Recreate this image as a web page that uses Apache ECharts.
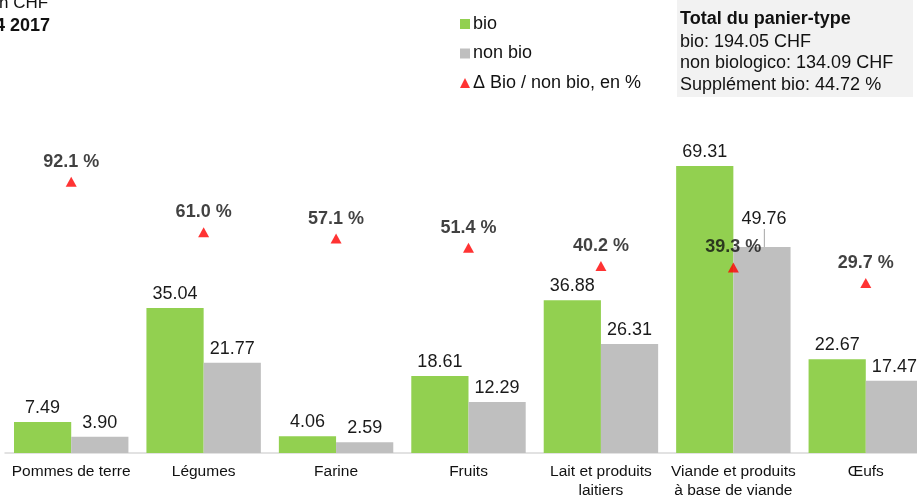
<!DOCTYPE html>
<html>
<head>
<meta charset="utf-8">
<script src="https://cdn.jsdelivr.net/npm/echarts@6/dist/echarts.min.js"></script>
<style>
  html, body { margin: 0; padding: 0; background: #fff; }
  #chart { width: 917px; height: 498px; }
</style>
</head>
<body>
<div id="chart"></div>
<script>
var categories = ["Pommes de terre", "Légumes", "Farine", "Fruits", "Lait et produits\nlaitiers", "Viande et produits\nà base de viande", "Œufs"];
var bioValues = [7.49, 35.04, 4.06, 18.61, 36.88, 69.31, 22.67];
var nonBioValues = [3.90, 21.77, 2.59, 12.29, 26.31, 49.76, 17.47];
var deltaValues = [92.1, 61.0, 57.1, 51.4, 40.2, 39.3, 29.7];

var boxLines = ["bio: 194.05 CHF", "non biologico: 134.09 CHF", "Supplément bio: 44.72 %"];

var font = "'Liberation Sans', Arial, sans-serif";

var chart = echarts.init(document.getElementById("chart"));

// the 49.76 label is pushed up so it does not hit the 39.3 % label
var nonBioData = nonBioValues.map(function (v, i) {
    if (i === 5) {
        return { value: v, label: { offset: [2, -14] } };
    }
    return v;
});

var valueLabel = {
    show: true, position: "top", distance: 5, fontSize: 18, color: "#1a1a1a", fontFamily: font,
    formatter: function (p) { return p.value.toFixed(2); }
};

var option = {
    animation: false,
    textStyle: { fontFamily: font },
    legend: {
        orient: "vertical",
        left: 455,
        top: 10,
        itemWidth: 10,
        itemHeight: 10,
        itemGap: 11.5,
        textStyle: { fontSize: 18, color: "#111", fontFamily: font, padding: [0, 0, 0, -2] },
        data: [
            { name: "bio", icon: "rect" },
            { name: "non bio", icon: "rect" },
            { name: "Δ Bio / non bio, en %", icon: "triangle" }
        ]
    },
    grid: { left: 5, width: 927, top: 39, height: 414, outerBoundsMode: "none", containLabel: false },
    xAxis: {
        type: "category",
        data: categories,
        axisLine: { lineStyle: { color: "#d9d9d9", width: 1.5 } },
        axisTick: { show: false },
        axisLabel: { color: "#111", fontSize: 15.5, lineHeight: 19, margin: 9, interval: 0, fontFamily: font }
    },
    yAxis: [
        { type: "value", min: 0, max: 100, show: false },
        { type: "value", min: -75, max: 180, show: false }
    ],
    series: [
        {
            name: "bio",
            type: "bar",
            data: bioValues,
            barGap: "0%",
            barCategoryGap: "13.6%",
            itemStyle: { color: "#92d050" },
            label: valueLabel
        },
        {
            name: "non bio",
            type: "bar",
            data: nonBioData,
            itemStyle: { color: "#bfbfbf" },
            label: valueLabel
        },
        {
            name: "Δ Bio / non bio, en %",
            type: "scatter",
            yAxisIndex: 1,
            data: deltaValues,
            symbol: "triangle",
            symbolSize: [11, 10],
            itemStyle: { color: "#ff0000" },
            z: 5,
            label: {
                show: true, position: "top", distance: 6, fontSize: 18, fontWeight: "bold", color: "#111", fontFamily: font,
                formatter: function (p) { return p.value.toFixed(1) + " %"; }
            }
        }
    ],
    graphic: [
        { type: "text", left: -1, top: -5, style: { text: "n CHF", font: "17px " + font, fill: "#111" } },
        { type: "text", right: 867, top: 17, style: { text: "4 2017", font: "bold 18px " + font, fill: "#111" } },
        { type: "rect", shape: { x: 677, y: 0, width: 236, height: 97 }, style: { fill: "#f2f2f2" }, z: -1 },
        { type: "text", left: 680, top: 10, style: { text: "Total du panier-type", font: "bold 18px " + font, fill: "#111" } },
        { type: "text", left: 680, top: 31, style: { text: boxLines.join("\n"), font: "18px " + font, fill: "#111", lineHeight: 21.5 } }
    ]
};

chart.setOption(option);

// leader line from the moved 49.76 label down to its bar
var top5 = chart.convertToPixel({ xAxisIndex: 0, yAxisIndex: 0 }, [5, nonBioValues[5]]);
chart.setOption({
    graphic: option.graphic.concat([{
        type: "line",
        shape: { x1: top5[0] + 31, y1: top5[1] - 18, x2: top5[0] + 31, y2: top5[1] },
        style: { stroke: "#a6a6a6", lineWidth: 1 }
    }])
});

window.addEventListener("resize", function () {
    chart.resize();
});
</script>
</body>
</html>
